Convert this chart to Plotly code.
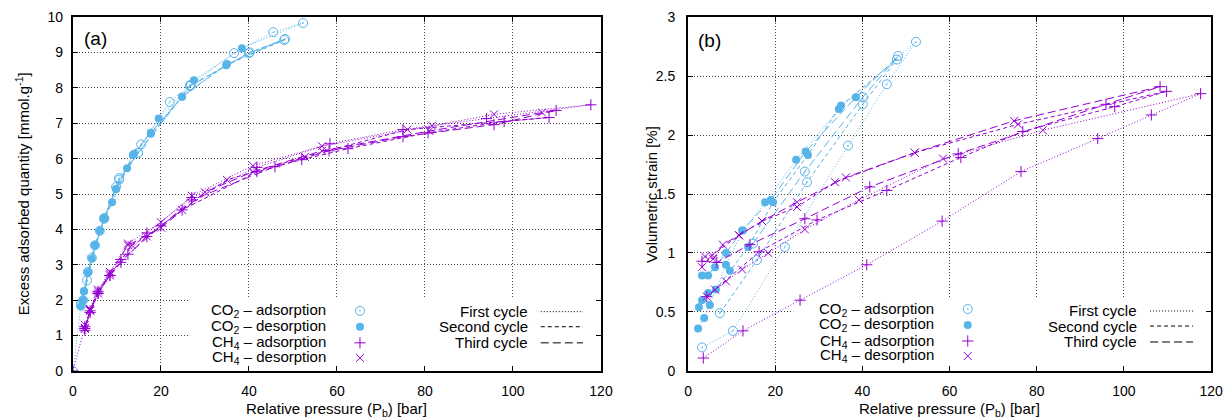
import plotly.graph_objects as go

FONT = "Liberation Sans"
CO2_COLOR = "#56b4e9"
CH4_COLOR = "#9400d3"

CYCLE_NAMES = ["First cycle", "Second cycle", "Third cycle"]
SERIES_NAMES = ["CO<sub>2</sub> – adsorption", "CO<sub>2</sub> – desorption",
                "CH<sub>4</sub> – adsorption", "CH<sub>4</sub> – desorption"]
X_TICKS = [0, 20, 40, 60, 80, 100, 120]
Y_TICKS_A = [0, 1, 2, 3, 4, 5, 6, 7, 8, 9, 10]
Y_TICKS_B = [0, 0.5, 1, 1.5, 2, 2.5, 3]
X_RANGE = [0, 120]
Y_RANGE_A = [0, 10]
Y_RANGE_B = [0, 3]

# ---------------- panel (a): excess adsorbed quantity [mmol/g] ----------------
a_co2_ads_p1 = [0, 1.8, 3.4, 5.0, 7.1, 10.5, 15.5, 22.0, 26.6, 36.6, 45.5, 52.3]
a_co2_ads_q1 = [0, 1.85, 2.80, 3.55, 4.32, 5.45, 6.40, 7.60, 8.07, 8.98, 9.57, 9.83]
a_co2_des_p1 = [38.4, 27.5, 19.5, 12.3, 9.8, 7.1, 4.3, 2.5, 1.8]
a_co2_des_q1 = [9.12, 8.21, 7.13, 5.73, 5.14, 4.32, 3.18, 2.25, 1.82]
a_co2_ads_p2 = [1.8, 3.2, 6.1, 9.8, 14.8, 26.8, 40.2, 48.0]
a_co2_ads_q2 = [1.90, 2.56, 3.96, 5.20, 6.16, 8.07, 9.00, 9.35]
a_co2_des_p2 = [34.8, 24.8, 17.7, 13.6, 8.9, 6.1, 5.0, 3.4, 2.3]
a_co2_des_q2 = [8.64, 7.75, 6.70, 6.10, 4.77, 3.96, 3.55, 2.78, 2.00]
a_co2_ads_p3 = [2.3, 4.3, 7.1, 10.5, 14.8, 26.6, 40.0, 48.2]
a_co2_ads_q3 = [2.00, 3.20, 4.30, 5.40, 6.16, 8.05, 8.98, 9.38]
a_co2_des_p3 = [35.0, 24.8, 17.7, 13.9, 9.8, 7.1, 5.0, 3.4, 2.5]
a_co2_des_q3 = [8.67, 7.75, 6.73, 6.14, 5.14, 4.32, 3.55, 2.78, 2.25]

a_ch4_ads_p1 = [0, 2.7, 5.7, 10.9, 16.8, 27.0, 41.8, 58.4, 75.0, 94.0, 117.7]
a_ch4_ads_q1 = [0, 1.25, 2.25, 3.15, 3.90, 4.90, 5.75, 6.42, 6.82, 7.13, 7.52]
a_ch4_des_p1 = [95.7, 81.6, 56.6, 40.9, 27.0, 20.0, 12.5, 8.4, 5.7, 3.9, 2.7]
a_ch4_des_q1 = [7.25, 6.93, 6.35, 5.80, 4.95, 4.20, 3.60, 2.80, 2.30, 1.75, 1.30]
a_ch4_ads_p2 = [2.7, 3.9, 5.7, 8.4, 10.9, 16.8, 24.8, 41.8, 52.0, 62.5, 80.7, 98.0, 108.2]
a_ch4_ads_q2 = [1.20, 1.65, 2.19, 2.70, 3.07, 3.80, 4.55, 5.63, 5.97, 6.28, 6.73, 7.05, 7.16]
a_ch4_des_p2 = [76.0, 52.7, 35.0, 24.8, 16.8, 13.4, 8.4, 5.7, 3.9, 2.7]
a_ch4_des_q2 = [6.82, 6.05, 5.40, 4.55, 3.80, 3.55, 2.70, 2.19, 1.70, 1.19]
a_ch4_ads_p3 = [2.7, 3.9, 5.7, 8.4, 12.5, 20.0, 27.0, 45.9, 58.2, 75.0, 95.7, 109.8]
a_ch4_ads_q3 = [1.15, 1.70, 2.20, 2.70, 3.30, 4.10, 4.83, 5.77, 6.22, 6.62, 6.96, 7.36]
a_ch4_des_p3 = [106.6, 81.0, 56.6, 40.9, 30.0, 20.0, 12.5, 8.4, 5.7, 3.9, 2.7]
a_ch4_des_q3 = [7.30, 6.78, 6.22, 5.63, 5.05, 4.05, 3.55, 2.75, 2.25, 1.72, 1.22]

# ---------------- panel (b): volumetric strain [%] ----------------
b_co2_ads_p1 = [3.2, 10.3, 22.2, 36.7, 45.6, 52.3]
b_co2_ads_e1 = [0.20, 0.34, 1.05, 1.91, 2.43, 2.79]
b_co2_des_p1 = [34.6, 24.8, 17.7, 12.6, 8.7, 5.0, 3.7, 2.3]
b_co2_des_e1 = [2.22, 1.79, 1.43, 1.19, 0.90, 0.56, 0.45, 0.36]
b_co2_ads_p2 = [7.3, 15.8, 27.3, 40.1, 47.9]
b_co2_ads_e2 = [0.49, 0.94, 1.60, 2.26, 2.64]
b_co2_des_p2 = [35.1, 27.5, 19.5, 13.8, 9.6, 6.4, 4.6, 3.2, 2.5]
b_co2_des_e2 = [2.25, 1.83, 1.43, 1.05, 0.85, 0.69, 0.66, 0.60, 0.54]
b_co2_ads_p3 = [14.9, 26.8, 40.1, 48.2]
b_co2_ads_e3 = [1.08, 1.69, 2.32, 2.67]
b_co2_des_p3 = [38.5, 27.0, 19.0, 12.4, 8.7, 6.2, 4.6, 3.2]
b_co2_des_e3 = [2.32, 1.86, 1.45, 1.19, 1.00, 0.88, 0.81, 0.81]

b_ch4_ads_p1 = [3.5, 12.6, 25.7, 41.0, 58.3, 76.4, 94.0, 106.3, 117.6]
b_ch4_ads_e1 = [0.11, 0.34, 0.60, 0.90, 1.27, 1.69, 1.97, 2.17, 2.35]
b_ch4_des_p1 = [81.4, 58.5, 39.2, 26.8, 18.4, 12.4, 8.7, 6.2, 4.3]
b_ch4_des_e1 = [2.04, 1.80, 1.45, 1.20, 1.00, 0.86, 0.76, 0.69, 0.63]
b_ch4_ads_p2 = [4.3, 16.3, 29.6, 45.6, 62.6, 76.8, 97.9, 109.8]
b_ch4_ads_e2 = [0.63, 1.01, 1.28, 1.53, 1.81, 2.03, 2.24, 2.37]
b_ch4_des_p2 = [75.7, 52.0, 33.7, 25.0, 17.0, 11.7, 5.5, 3.2]
b_ch4_des_e2 = [2.09, 1.85, 1.60, 1.39, 1.27, 1.15, 0.98, 0.88]
b_ch4_ads_p3 = [3.2, 6.6, 14.2, 26.8, 41.7, 62.0, 95.9, 108.3]
b_ch4_ads_e3 = [0.93, 0.92, 1.07, 1.29, 1.56, 1.84, 2.26, 2.41]
b_ch4_des_p3 = [74.8, 52.0, 36.2, 25.0, 17.0, 11.7, 8.0, 5.8, 3.9]
b_ch4_des_e3 = [2.12, 1.85, 1.64, 1.43, 1.27, 1.15, 1.07, 0.95, 0.97]

# ---------------- styles ----------------
DASHES = ["1px,2px", "4px,3px", "8px,4px"]
MARKERS = [
    dict(symbol="circle-open-dot", size=9, color=CO2_COLOR, line=dict(color=CO2_COLOR, width=1)),
    dict(symbol="circle", size=8, color=CO2_COLOR, line=dict(width=0)),
    dict(symbol="cross-thin", size=8, color=CH4_COLOR, line=dict(color=CH4_COLOR, width=1)),
    dict(symbol="x-thin", size=8, color=CH4_COLOR, line=dict(color=CH4_COLOR, width=1)),
]

fig = go.Figure()


def add_loop(ads_x, ads_y, des_x, des_y, gas, cycle, xa, ya):
    color = CO2_COLOR if gas == 0 else CH4_COLOR
    fig.add_trace(go.Scatter(x=ads_x + des_x, y=ads_y + des_y, mode="lines",
                             line=dict(color=color, width=1, dash=DASHES[cycle]),
                             xaxis=xa, yaxis=ya, hoverinfo="skip", showlegend=False))
    fig.add_trace(go.Scatter(x=ads_x, y=ads_y, mode="markers", marker=MARKERS[2 * gas],
                             xaxis=xa, yaxis=ya, showlegend=False))
    fig.add_trace(go.Scatter(x=des_x, y=des_y, mode="markers", marker=MARKERS[2 * gas + 1],
                             xaxis=xa, yaxis=ya, showlegend=False))


panel_a = [
    (0, [(a_co2_ads_p1, a_co2_ads_q1, a_co2_des_p1, a_co2_des_q1),
         (a_co2_ads_p2, a_co2_ads_q2, a_co2_des_p2, a_co2_des_q2),
         (a_co2_ads_p3, a_co2_ads_q3, a_co2_des_p3, a_co2_des_q3)]),
    (1, [(a_ch4_ads_p1, a_ch4_ads_q1, a_ch4_des_p1, a_ch4_des_q1),
         (a_ch4_ads_p2, a_ch4_ads_q2, a_ch4_des_p2, a_ch4_des_q2),
         (a_ch4_ads_p3, a_ch4_ads_q3, a_ch4_des_p3, a_ch4_des_q3)]),
]
panel_b = [
    (0, [(b_co2_ads_p1, b_co2_ads_e1, b_co2_des_p1, b_co2_des_e1),
         (b_co2_ads_p2, b_co2_ads_e2, b_co2_des_p2, b_co2_des_e2),
         (b_co2_ads_p3, b_co2_ads_e3, b_co2_des_p3, b_co2_des_e3)]),
    (1, [(b_ch4_ads_p1, b_ch4_ads_e1, b_ch4_des_p1, b_ch4_des_e1),
         (b_ch4_ads_p2, b_ch4_ads_e2, b_ch4_des_p2, b_ch4_des_e2),
         (b_ch4_ads_p3, b_ch4_ads_e3, b_ch4_des_p3, b_ch4_des_e3)]),
]
for gas, loops in panel_a:
    for c, (ax, ay, dx, dy) in enumerate(loops):
        add_loop(ax, ay, dx, dy, gas, c, "x", "y")
for gas, loops in panel_b:
    for c, (ax, ay, dx, dy) in enumerate(loops):
        add_loop(ax, ay, dx, dy, gas, c, "x2", "y2")

# ---------------- legends (drawn inside each panel, positions as fractions of the plot area) ----------------
LEG = {
    "a": ("x", "y", Y_RANGE_A, (0.222, 0.995, 0.204),
          [0.170, 0.125, 0.0795, 0.0369], 0.483, 0.5436,
          [0.1676, 0.125, 0.0795], 0.8655, 0.886, 0.966),
    "b": ("x2", "y2", Y_RANGE_B, (0.201, 0.995, 0.209),
          [0.175, 0.130, 0.0847, 0.0424], 0.4736, 0.5348,
          [0.1695, 0.127, 0.0819], 0.8623, 0.8834, 0.9656),
}


def fx(f):
    return X_RANGE[0] + f * (X_RANGE[1] - X_RANGE[0])


def fy(f, yr):
    return yr[0] + f * (yr[1] - yr[0])


shapes = []
annotations = []
for key, (xa, ya, yr, box, rows, tx, kx, crows, ctx, lx0, lx1) in LEG.items():
    xd, yd = xa + " domain", ya + " domain"
    # white legend box: hides the grid but stays under the data
    shapes.append(dict(type="rect", xref=xa, yref=ya, x0=fx(box[0]), x1=fx(box[1]),
                       y0=fy(0.004, yr), y1=fy(box[2], yr),
                       fillcolor="white", line=dict(width=0), layer="between"))
    for i, name in enumerate(SERIES_NAMES):
        annotations.append(dict(xref=xd, yref=yd, x=tx, y=rows[i], text=name, showarrow=False,
                                xanchor="right", yanchor="middle",
                                font=dict(family=FONT, size=15, color="black")))
        fig.add_trace(go.Scatter(x=[fx(kx)], y=[fy(rows[i], yr)],
                                 mode="markers", marker=MARKERS[i],
                                 xaxis=xa, yaxis=ya, showlegend=False, hoverinfo="skip"))
    for c, name in enumerate(CYCLE_NAMES):
        annotations.append(dict(xref=xd, yref=yd, x=ctx, y=crows[c], text=name, showarrow=False,
                                xanchor="right", yanchor="middle",
                                font=dict(family=FONT, size=15, color="black")))
        shapes.append(dict(type="line", xref=xd, yref=yd, x0=lx0, x1=lx1, y0=crows[c], y1=crows[c],
                           line=dict(color="black", width=1, dash=DASHES[c]), layer="above"))

# panel labels and axis titles
annotations += [
    dict(xref="x domain", yref="y domain", x=0.017, y=0.938, text="(a)", showarrow=False,
         xanchor="left", yanchor="middle", font=dict(family=FONT, size=19, color="black")),
    dict(xref="x2 domain", yref="y2 domain", x=0.016, y=0.935, text="(b)", showarrow=False,
         xanchor="left", yanchor="middle", font=dict(family=FONT, size=19, color="black")),
    dict(xref="paper", yref="paper", x=0.2744, y=0.024, text="Relative pressure (P<sub>b</sub>) [bar]",
         showarrow=False, xanchor="center", yanchor="middle", font=dict(family=FONT, size=15, color="black")),
    dict(xref="paper", yref="paper", x=0.7736, y=0.024, text="Relative pressure (P<sub>b</sub>) [bar]",
         showarrow=False, xanchor="center", yanchor="middle", font=dict(family=FONT, size=15, color="black")),
    dict(xref="paper", yref="paper", x=0.018, y=0.538, text="Excess adsorbed quantity [mmol.g<sup>-1</sup>]",
         showarrow=False, textangle=-90, xanchor="center", yanchor="middle",
         font=dict(family=FONT, size=15, color="black")),
    dict(xref="paper", yref="paper", x=0.530, y=0.538, text="Volumetric strain [%]",
         showarrow=False, textangle=-90, xanchor="center", yanchor="middle",
         font=dict(family=FONT, size=15, color="black")),
]

axis_common = dict(showline=True, linewidth=2, linecolor="black", mirror="allticks",
                   ticks="inside", ticklen=5, tickwidth=1, tickcolor="black",
                   showgrid=True, gridcolor="#444", griddash="1px,2px", gridwidth=1,
                   zeroline=False, automargin=False,
                   tickfont=dict(family=FONT, size=14, color="black"))
XDOM_A = [0.0594, 0.4894]
XDOM_B = [0.5603, 0.9862]
YDOM = [0.1167, 0.9595]

fig.update_layout(
    width=1228, height=420, margin=dict(l=0, r=0, t=0, b=0),
    plot_bgcolor="white", paper_bgcolor="white", showlegend=False,
    xaxis=dict(axis_common, domain=XDOM_A, range=X_RANGE, tickvals=X_TICKS, anchor="y",
               ticklabelstandoff=6),
    yaxis=dict(axis_common, domain=YDOM, range=Y_RANGE_A, tickvals=Y_TICKS_A, anchor="x",
               ticklabelstandoff=5),
    xaxis2=dict(axis_common, domain=XDOM_B, range=X_RANGE, tickvals=X_TICKS, anchor="y2",
                ticklabelstandoff=6),
    yaxis2=dict(axis_common, domain=YDOM, range=Y_RANGE_B, tickvals=Y_TICKS_B, anchor="x2",
                ticklabelstandoff=8),
    shapes=shapes, annotations=annotations,
)

fig.write_html("out.html", config={"displayModeBar": False},
               post_script="document.body.style.margin='0';")
